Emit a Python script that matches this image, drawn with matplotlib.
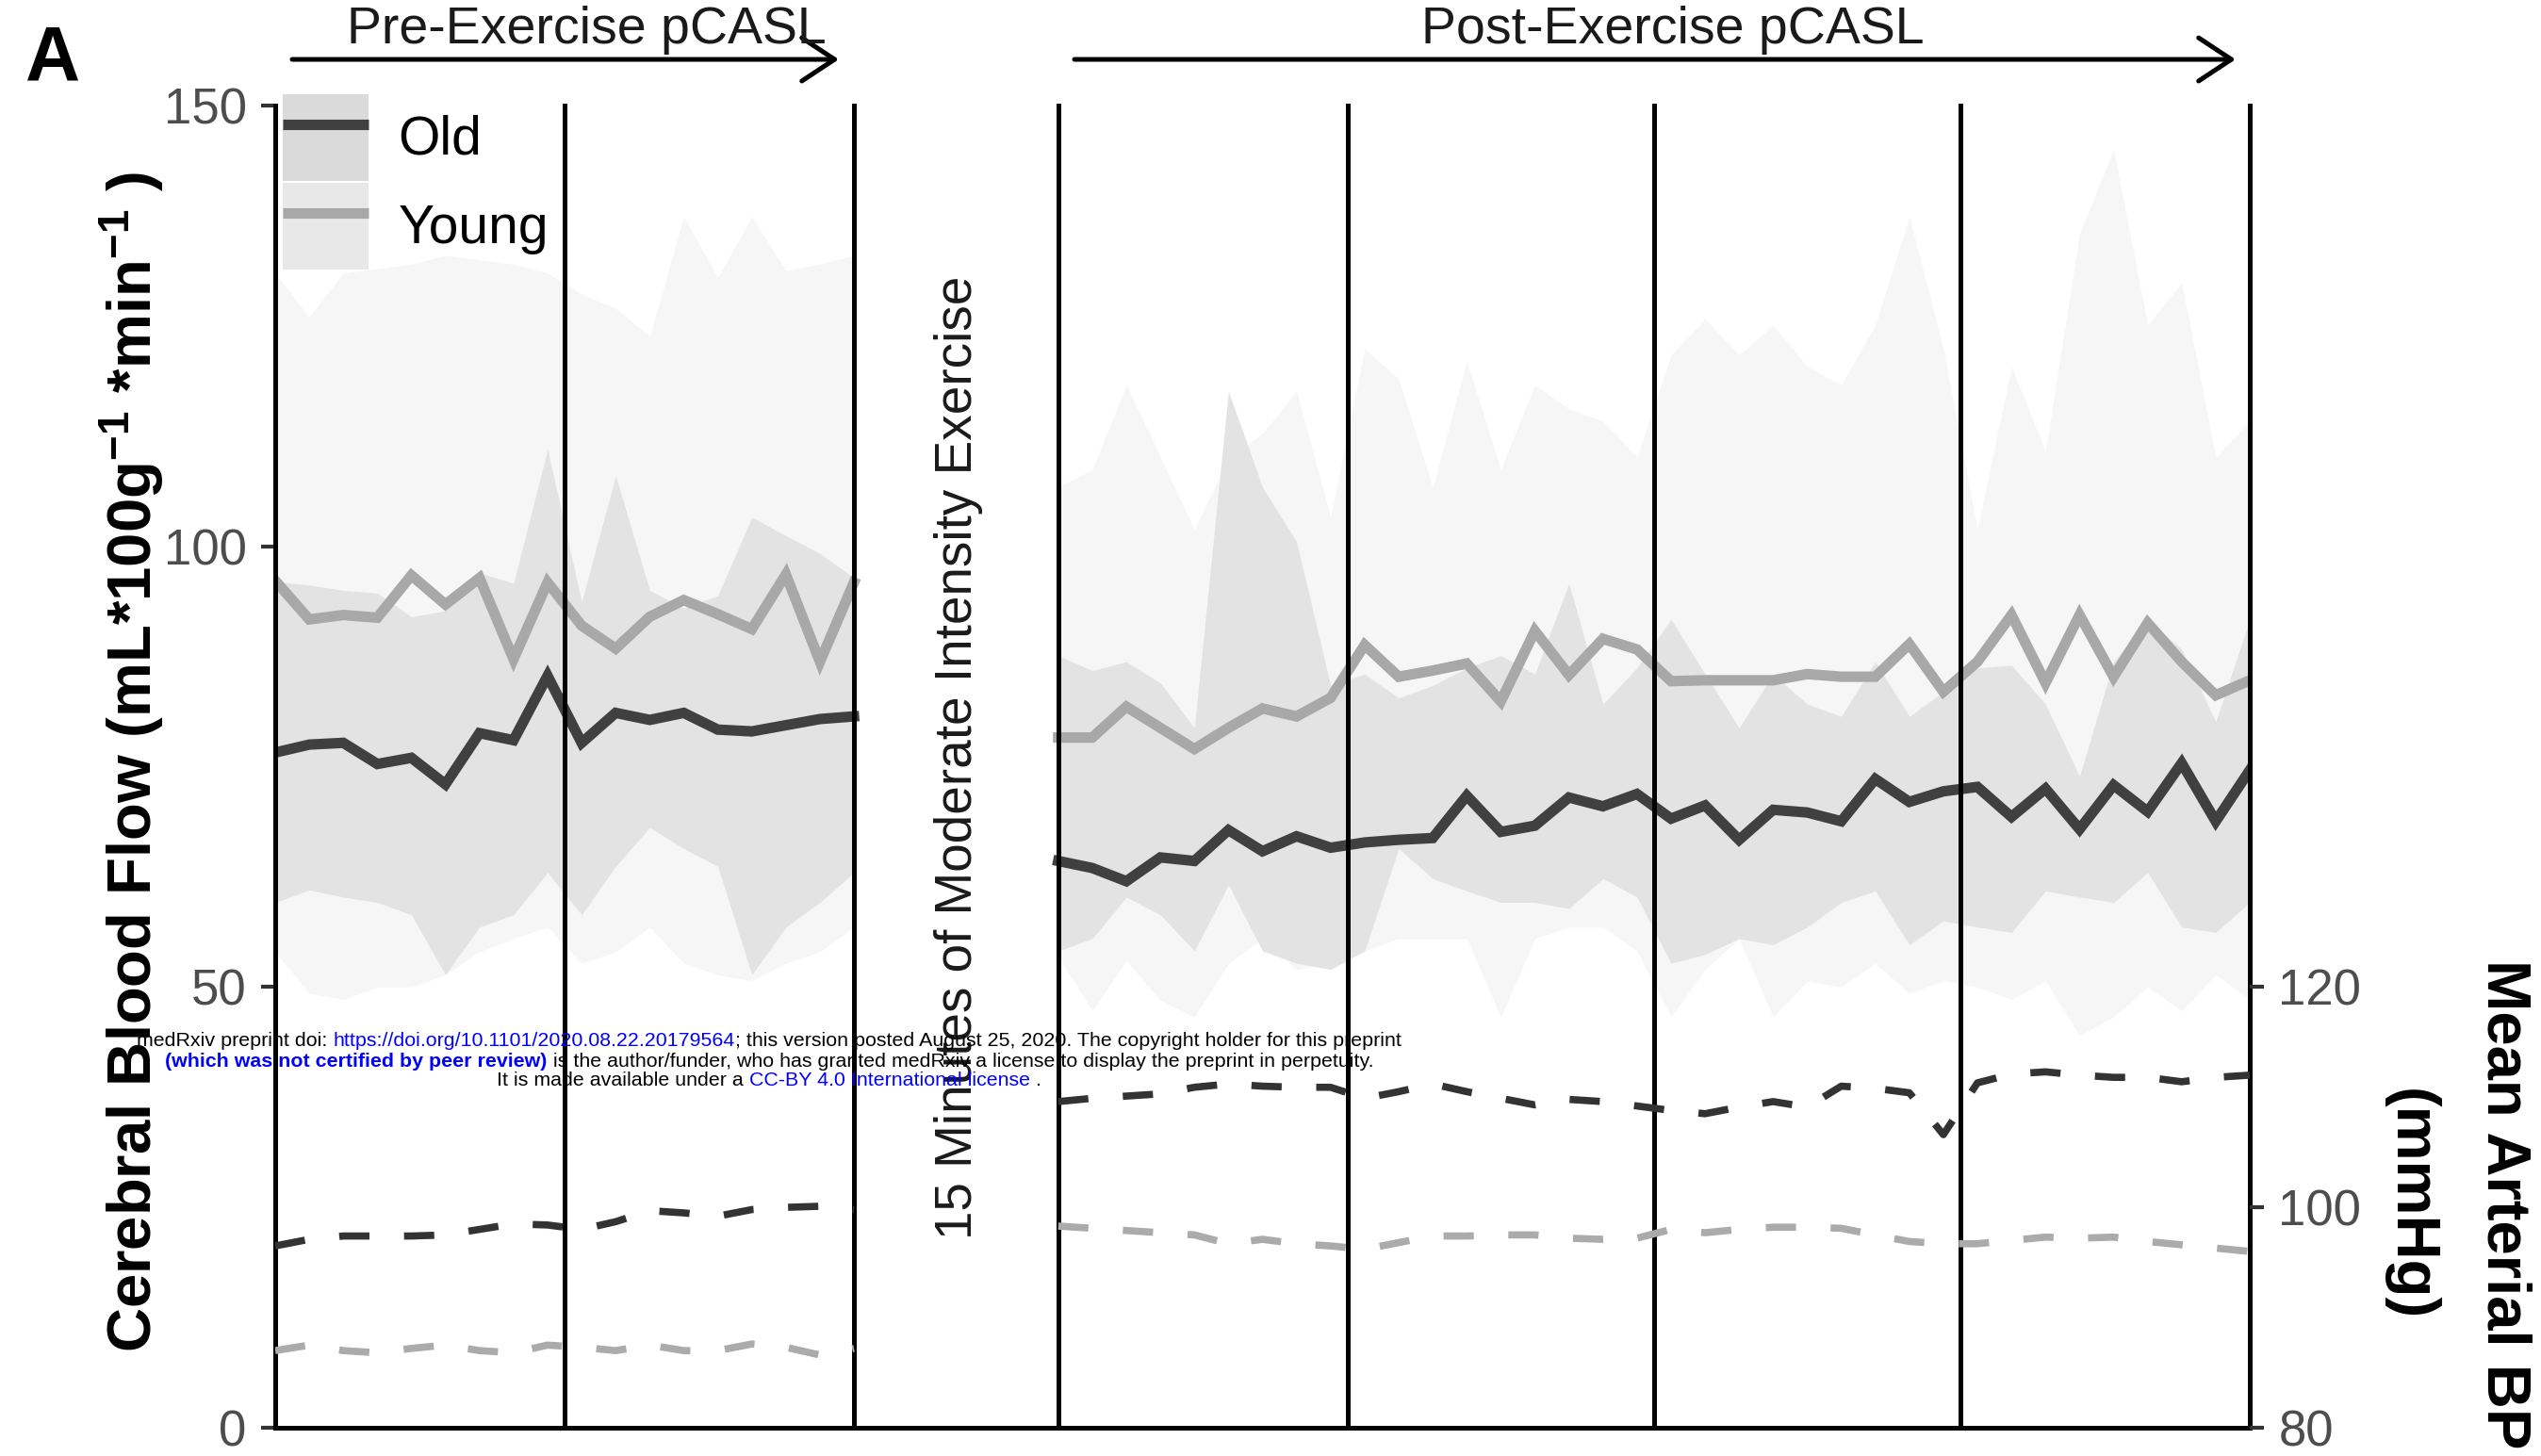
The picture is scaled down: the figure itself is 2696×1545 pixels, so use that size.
import numpy as np
import matplotlib
matplotlib.use("Agg")
import matplotlib.pyplot as plt
from matplotlib.patches import Patch, FancyArrowPatch
from matplotlib.lines import Line2D
from matplotlib.legend_handler import HandlerTuple

plt.rcParams['font.family'] = ['Liberation Sans', 'DejaVu Sans']
plt.rcParams['mathtext.fontset'] = 'custom'
plt.rcParams['mathtext.rm'] = 'Liberation Sans'
plt.rcParams['mathtext.bf'] = 'Liberation Sans:bold'
plt.rcParams['mathtext.default'] = 'bf'

# ---- data (CBF in mL/100g/min, MAP in mmHg) ----
old_cbf_pre = [76.6, 77.5, 77.7, 75.3, 76.0, 73.0, 78.8, 78.0, 85.3,
               77.7, 81.1, 80.3, 81.1, 79.2, 79.0, 79.7, 80.4, 80.7]
young_cbf_pre = [96.1, 91.7, 92.2, 91.9, 96.7, 93.4, 96.4, 87.2, 95.9,
                 91.0, 88.4, 92.0, 93.9, 92.3, 90.6, 96.8, 86.9, 95.9]
old_hi_pre = [96.0, 95.6, 95.0, 94.7, 92.0, 92.7, 97.0, 95.8, 111.0,
              93.7, 108.0, 95.0, 93.0, 94.4, 103.3, 101.2, 99.2, 96.4]
old_lo_pre = [59.6, 61.0, 60.2, 59.6, 58.2, 51.4, 56.8, 58.2, 63.0,
              58.2, 63.7, 68.1, 65.7, 63.7, 51.4, 56.8, 59.6, 63.0]
young_hi_pre = [131.0, 126.0, 131.0, 131.5, 132.0, 133.0, 132.5, 132.0, 131.0,
                128.6, 127.0, 123.8, 137.4, 130.5, 137.4, 131.3, 132.0, 133.0]
young_lo_pre = [54.0, 49.3, 48.6, 50.0, 50.0, 51.4, 54.0, 55.5, 56.8,
                52.7, 54.0, 56.8, 52.7, 51.4, 50.7, 52.7, 54.0, 56.8]

old_cbf_post = [64.3, 63.5, 62.0, 64.7, 64.3, 67.8, 65.4, 67.1, 65.8,
                66.4, 66.7, 66.9, 71.7, 67.6, 68.3, 71.5, 70.5, 71.9,
                69.1, 70.6, 66.7, 70.1, 69.8, 68.8, 73.6, 71.0, 72.2,
                72.7, 69.3, 72.5, 67.9, 72.9, 69.9, 75.4, 68.8, 74.6]
young_cbf_post = [78.3, 78.3, 81.8, 79.4, 77.0, 79.4, 81.6, 80.7, 82.8,
                  88.8, 85.2, 85.9, 86.7, 82.4, 90.4, 85.4, 89.5, 88.3,
                  84.7, 84.8, 84.8, 84.8, 85.5, 85.2, 85.2, 88.9, 83.5,
                  86.9, 92.2, 84.5, 92.2, 85.2, 91.3, 86.9, 83.1, 84.8]
old_hi_post = [87.6, 85.9, 86.9, 84.5, 79.4, 117.6, 106.7, 100.5, 84.2,
               85.5, 82.8, 84.2, 86.2, 87.6, 85.5, 95.8, 82.1, 86.2,
               91.7, 85.5, 79.4, 85.5, 82.1, 80.7, 86.9, 80.7, 83.5,
               86.2, 86.5, 82.1, 73.9, 86.9, 91.7, 88.3, 80.1, 91.7]
old_lo_post = [54.1, 55.5, 60.2, 58.2, 54.1, 61.6, 54.1, 52.7, 52.0,
               54.1, 65.7, 62.3, 60.9, 59.6, 59.6, 58.9, 62.3, 60.2,
               52.7, 53.7, 55.5, 54.8, 56.8, 59.6, 60.9, 54.8, 57.5,
               56.8, 56.2, 60.9, 60.2, 59.6, 63.0, 56.8, 56.2, 59.6]
young_hi_post = [106.7, 108.7, 118.3, 110.1, 101.9, 110.0, 112.8, 117.6, 103.3,
                 122.4, 119.0, 106.7, 121.0, 108.7, 118.3, 115.6, 114.2, 110.1,
                 121.7, 125.8, 121.7, 125.1, 120.4, 118.3, 125.1, 137.4, 122.4,
                 101.9, 120.4, 110.8, 135.4, 145.0, 125.1, 129.9, 110.1, 114.2]
young_lo_post = [53.5, 47.3, 53.0, 48.5, 46.6, 52.7, 55.5, 52.0, 52.7,
                 54.1, 55.5, 55.5, 55.5, 46.6, 55.5, 56.8, 56.8, 54.1,
                 46.6, 52.0, 55.5, 46.6, 50.7, 50.0, 52.7, 49.3, 50.7,
                 50.0, 48.6, 50.7, 44.5, 46.6, 50.0, 47.3, 51.4, 48.6]

old_map_pre = [96.5, 97.1, 97.4, 97.4, 97.4, 97.5, 98.0, 98.5, 98.4,
               98.0, 98.7, 99.7, 99.5, 99.2, 99.8, 100.0, 100.1, 99.8]
young_map_pre = [87.0, 87.5, 87.0, 86.8, 87.2, 87.5, 87.0, 86.8, 87.5,
                 87.3, 87.0, 87.5, 87.0, 87.0, 87.6, 87.3, 86.6, 87.2]
old_map_post = [109.6, 109.9, 110.1, 110.3, 110.9, 111.2, 111.0, 110.9, 110.9,
                109.9, 110.5, 111.2, 110.5, 109.9, 109.3, 109.8, 109.6, 109.2,
                108.8, 108.5, 109.1, 109.6, 109.1, 111.0, 110.8, 110.4, 106.6,
                111.3, 112.1, 112.3, 112.0, 111.8, 111.8, 111.4, 111.8, 112.0]
young_map_post = [98.3, 98.1, 97.9, 97.7, 97.5, 96.7, 97.1, 96.7, 96.5,
                  96.2, 96.8, 97.4, 97.4, 97.5, 97.5, 97.2, 97.1, 97.2,
                  98.0, 97.7, 98.0, 98.2, 98.2, 98.1, 97.5, 96.9, 96.7,
                  96.7, 97.0, 97.3, 97.2, 97.3, 96.9, 96.6, 96.3, 96.0]

# scan positions: pre block, 15 min exercise gap, post block
x_pre = np.arange(len(old_cbf_pre))
x_post = 23 + np.arange(len(old_cbf_post))
bounds = [0, 8.5, 17, 23, 31.5, 40.5, 49.5, 58]

OLD = '#404040'
YOUNG = '#a8a8a8'
OLD_FILL = '#e3e3e3'
YOUNG_FILL = '#f6f6f6'

fig = plt.figure(figsize=(26.96, 15.45), dpi=100)
ax = fig.add_axes([0.10831, 0.019417, 0.77708, 0.90809])
ax2 = ax.twinx()

for xs, lo, hi in [(x_pre, young_lo_pre, young_hi_pre), (x_post, young_lo_post, young_hi_post)]:
    ax.fill_between(xs, lo, hi, color=YOUNG_FILL, lw=0, zorder=1)
for xs, lo, hi in [(x_pre, old_lo_pre, old_hi_pre), (x_post, old_lo_post, old_hi_post)]:
    ax.fill_between(xs, lo, hi, color=OLD_FILL, lw=0, zorder=2)

for xs, yv in [(x_pre, young_cbf_pre), (x_post, young_cbf_post)]:
    ax.plot(xs, yv, color=YOUNG, lw=8, solid_joinstyle='miter', zorder=3)
for xs, yv in [(x_pre, old_cbf_pre), (x_post, old_cbf_post)]:
    ax.plot(xs, yv, color=OLD, lw=8, solid_joinstyle='miter', zorder=4)

for b in bounds:
    ax.axvline(b, color='black', lw=3.6, zorder=5, clip_on=False)

for xs, yv in [(x_pre, old_map_pre), (x_post, old_map_post)]:
    ax2.plot(xs, yv, color='#333333', lw=5.5, dashes=(4.2, 4.8), zorder=3)
for xs, yv in [(x_pre, young_map_pre), (x_post, young_map_post)]:
    ax2.plot(xs, yv, color='#ababab', lw=5.5, dashes=(4.2, 4.8), zorder=3)

ax.set_xlim(0, 58)
ax.set_ylim(0, 150)
ax2.set_ylim(80, 200)
ax.set_xticks([])
ax.set_yticks([0, 50, 100, 150])
ax2.set_yticks([80, 100, 120])
for a in (ax, ax2):
    for s in ('top', 'left', 'right'):
        a.spines[s].set_visible(False)
    a.tick_params(axis='y', length=10.8, width=3, color='#333333', pad=11,
                  labelsize=38, labelcolor='#4d4d4d')
ax2.spines['bottom'].set_visible(False)
ax.spines['bottom'].set_linewidth(3.6)
ax.spines['bottom'].set_color('black')

# legend (ribbon fill behind line, like ggplot keys)
h_old = (Patch(facecolor='#dadada', edgecolor='none'),
         Line2D([], [], color=OLD, lw=8, solid_capstyle='butt'))
h_young = (Patch(facecolor='#e8e8e8', edgecolor='none'),
           Line2D([], [], color=YOUNG, lw=8, solid_capstyle='butt'))
leg = ax.legend([h_old, h_young], ['Old', 'Young'],
                handler_map={tuple: HandlerTuple(ndivide=1, pad=0)},
                loc='upper left', bbox_to_anchor=(0.0038, 1.0086), frameon=False,
                fontsize=41, handlelength=1.6, handleheight=2.1, labelspacing=0.05,
                handletextpad=0.55, borderpad=0, borderaxespad=0)
leg.set_zorder(10)

# texts
fig.text(0.0208, 0.9456, 'A', fontsize=58, fontweight='bold', ha='center', va='baseline')
fig.text(0.2307, 0.9702, 'Pre-Exercise pCASL', fontsize=40, color='#1a1a1a',
         ha='center', va='baseline')
fig.text(0.6584, 0.9702, 'Post-Exercise pCASL', fontsize=40, color='#1a1a1a',
         ha='center', va='baseline')
for x0, x1 in [(310, 890), (1140, 2372)]:
    arr = FancyArrowPatch((x0 / 2696, 0.9592), (x1 / 2696, 0.9592), transform=fig.transFigure,
                          arrowstyle='->,head_length=2.5,head_width=1.65', mutation_scale=10,
                          lw=3.6, color='black', shrinkA=0, shrinkB=0)
    fig.add_artist(arr)

fig.text(0.3772, 0.4796, '15 Minutes of Moderate Intensity Exercise', fontsize=39.5,
         color='#1a1a1a', rotation=90, ha='center', va='center')
fig.text(0.052, 0.477, r'Cerebral Blood Flow (mL*100g$^{-1}$ *min$^{-1}$ )', fontsize=47,
         fontweight='bold', rotation=90, ha='center', va='center')
fig.text(0.9855, 0.1728, 'Mean Arterial BP', fontsize=47, fontweight='bold',
         rotation=270, ha='center', va='center')
fig.text(0.9484, 0.1728, '(mmHg)', fontsize=47, fontweight='bold',
         rotation=270, ha='center', va='center')

# medRxiv stamp
renderer = fig.canvas.get_renderer()


def width_of(s, weight, size):
    t = fig.text(0, 0, '|' + s + '|', fontsize=size, fontweight=weight)
    t2 = fig.text(0, 0, '||', fontsize=size, fontweight=weight)
    w = t.get_window_extent(renderer).width - t2.get_window_extent(renderer).width
    t.remove()
    t2.remove()
    return w


def stamp_line(xc, y, parts, size=15.4):
    ws = [width_of(s, wt, size) for s, c, wt in parts]
    xpix = xc * fig.bbox.width - sum(ws) / 2
    for (s, c, wt), w in zip(parts, ws):
        fig.text(xpix / fig.bbox.width, y, s, color=c, fontweight=wt, fontsize=size,
                 ha='left', va='center', zorder=20)
        xpix += w


BLUE = '#0000ff'
stamp_line(0.3027, (1545 - 1104) / 1545, [
    ('medRxiv preprint doi: ', 'black', 'normal'),
    ('https://doi.org/10.1101/2020.08.22.20179564', BLUE, 'normal'),
    ('; this version posted August 25, 2020. The copyright holder for this preprint', 'black', 'normal')])
stamp_line(0.3027, (1545 - 1126) / 1545, [
    ('(which was not certified by peer review)', BLUE, 'bold'),
    (' is the author/funder, who has granted medRxiv a license to display the preprint in perpetuity.',
     'black', 'normal')])
stamp_line(0.3027, (1545 - 1147) / 1545, [
    ('It is made available under a ', 'black', 'normal'),
    ('CC-BY 4.0 International license', BLUE, 'normal'),
    (' .', 'black', 'normal')])

fig.savefig('out.png', dpi=100)
